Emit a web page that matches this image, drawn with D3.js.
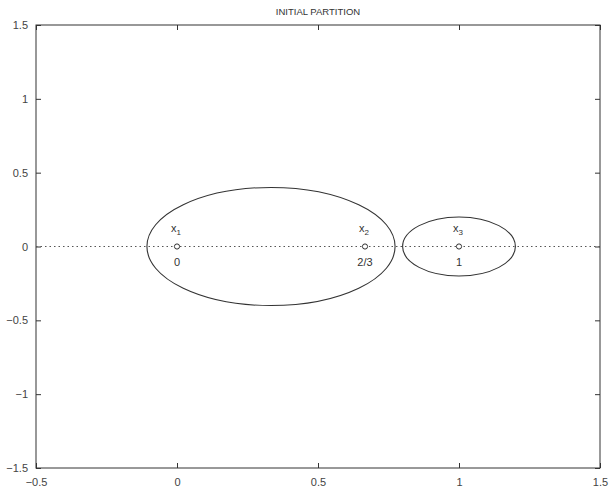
<!DOCTYPE html>
<html>
<head>
<meta charset="utf-8">
<script src="https://cdn.jsdelivr.net/npm/d3@7"></script>
<style>
  html, body { margin: 0; padding: 0; background: #fff; }
  svg { display: block; font-family: "Liberation Sans", Arial, sans-serif; }
</style>
</head>
<body>
<svg id="chart" width="609" height="489"></svg>
<script>
// Points of the partition and their labels
const pointX = [0, 2/3, 1];
const pointNames = ["1", "2", "3"];
const pointValues = ["0", "2/3", "1"];

// Clusters drawn as ellipses: centre x, centre y, radius x, radius y
const clusterCx = [1/3, 1];
const clusterCy = [0, 0];
const clusterRx = [0.44, 0.2];
const clusterRy = [0.40, 0.2];

const xTicks = [-0.5, 0, 0.5, 1, 1.5];
const yTicks = [-1.5, -1, -0.5, 0, 0.5, 1, 1.5];
const title = "INITIAL PARTITION";

const margin = { left: 36, right: 9, top: 25, bottom: 21 };
const W = 609, H = 489;
const svg = d3.select("#chart");

const x = d3.scaleLinear().domain([-0.5, 1.5]).range([margin.left, W - margin.right]);
const y = d3.scaleLinear().domain([-1.5, 1.5]).range([H - margin.bottom, margin.top]);

const ink = "#333";
const fmt = d => String(d).replace("-", "\u2212");

// Frame
svg.append("rect")
  .attr("x", x(-0.5)).attr("y", y(1.5))
  .attr("width", x(1.5) - x(-0.5)).attr("height", y(-1.5) - y(1.5))
  .attr("fill", "none").attr("stroke", ink).attr("stroke-width", 1);

// Inward ticks on all four sides
const tl = 5;
const axB = svg.append("g").attr("transform", `translate(0,${y(-1.5)})`)
  .call(d3.axisBottom(x).tickValues(xTicks).tickSize(-tl).tickPadding(tl + 5).tickFormat(fmt));
const axT = svg.append("g").attr("transform", `translate(0,${y(1.5)})`)
  .call(d3.axisTop(x).tickValues(xTicks).tickSize(-tl).tickFormat(""));
const axL = svg.append("g").attr("transform", `translate(${x(-0.5)},0)`)
  .call(d3.axisLeft(y).tickValues(yTicks).tickSize(-tl).tickPadding(tl + 3).tickFormat(fmt));
const axR = svg.append("g").attr("transform", `translate(${x(1.5)},0)`)
  .call(d3.axisRight(y).tickValues(yTicks).tickSize(-tl).tickFormat(""));
[axB, axT, axL, axR].forEach(a => {
  a.select(".domain").remove();
  a.selectAll(".tick line").attr("stroke", ink);
  a.selectAll(".tick text").attr("fill", "#444").attr("font-size", 11);
});

// Dotted reference line at y = 0
svg.append("line")
  .attr("x1", x(-0.5)).attr("x2", x(1.5))
  .attr("y1", y(0)).attr("y2", y(0))
  .attr("stroke", "#555").attr("stroke-width", 1)
  .attr("stroke-dasharray", "1.5,3");

// Cluster ellipses
svg.selectAll("ellipse.cluster")
  .data(clusterCx.map((cx, i) => ({ cx, cy: clusterCy[i], rx: clusterRx[i], ry: clusterRy[i] })))
  .join("ellipse")
  .attr("class", "cluster")
  .attr("cx", d => x(d.cx)).attr("cy", d => y(d.cy))
  .attr("rx", d => x(d.rx) - x(0)).attr("ry", d => y(0) - y(d.ry))
  .attr("fill", "none").attr("stroke", ink).attr("stroke-width", 1.1);

// Point markers
const pts = pointX.map((v, i) => ({ v, name: pointNames[i], val: pointValues[i] }));
svg.selectAll("circle.pt").data(pts).join("circle")
  .attr("class", "pt")
  .attr("cx", d => x(d.v)).attr("cy", d => y(0))
  .attr("r", 2.6).attr("fill", "#fff").attr("stroke", ink).attr("stroke-width", 1);

// Point names with subscripts
const names = svg.selectAll("text.name").data(pts).join("text")
  .attr("class", "name")
  .attr("x", d => x(d.v) - 1).attr("y", y(0) - 15)
  .attr("text-anchor", "middle").attr("fill", "#333").attr("font-size", 11);
names.append("tspan").text("x");
names.append("tspan").attr("dy", 3).attr("font-size", 8).text(d => d.name);

// Point values
svg.selectAll("text.val").data(pts).join("text")
  .attr("class", "val")
  .attr("x", d => x(d.v)).attr("y", y(0) + 19)
  .attr("text-anchor", "middle").attr("fill", "#333").attr("font-size", 11)
  .text(d => d.val);

// Title
svg.append("text")
  .attr("x", (x(-0.5) + x(1.5)) / 2).attr("y", 15)
  .attr("text-anchor", "middle").attr("fill", "#333").attr("font-size", 9.5)
  .text(title);
</script>
</body>
</html>
